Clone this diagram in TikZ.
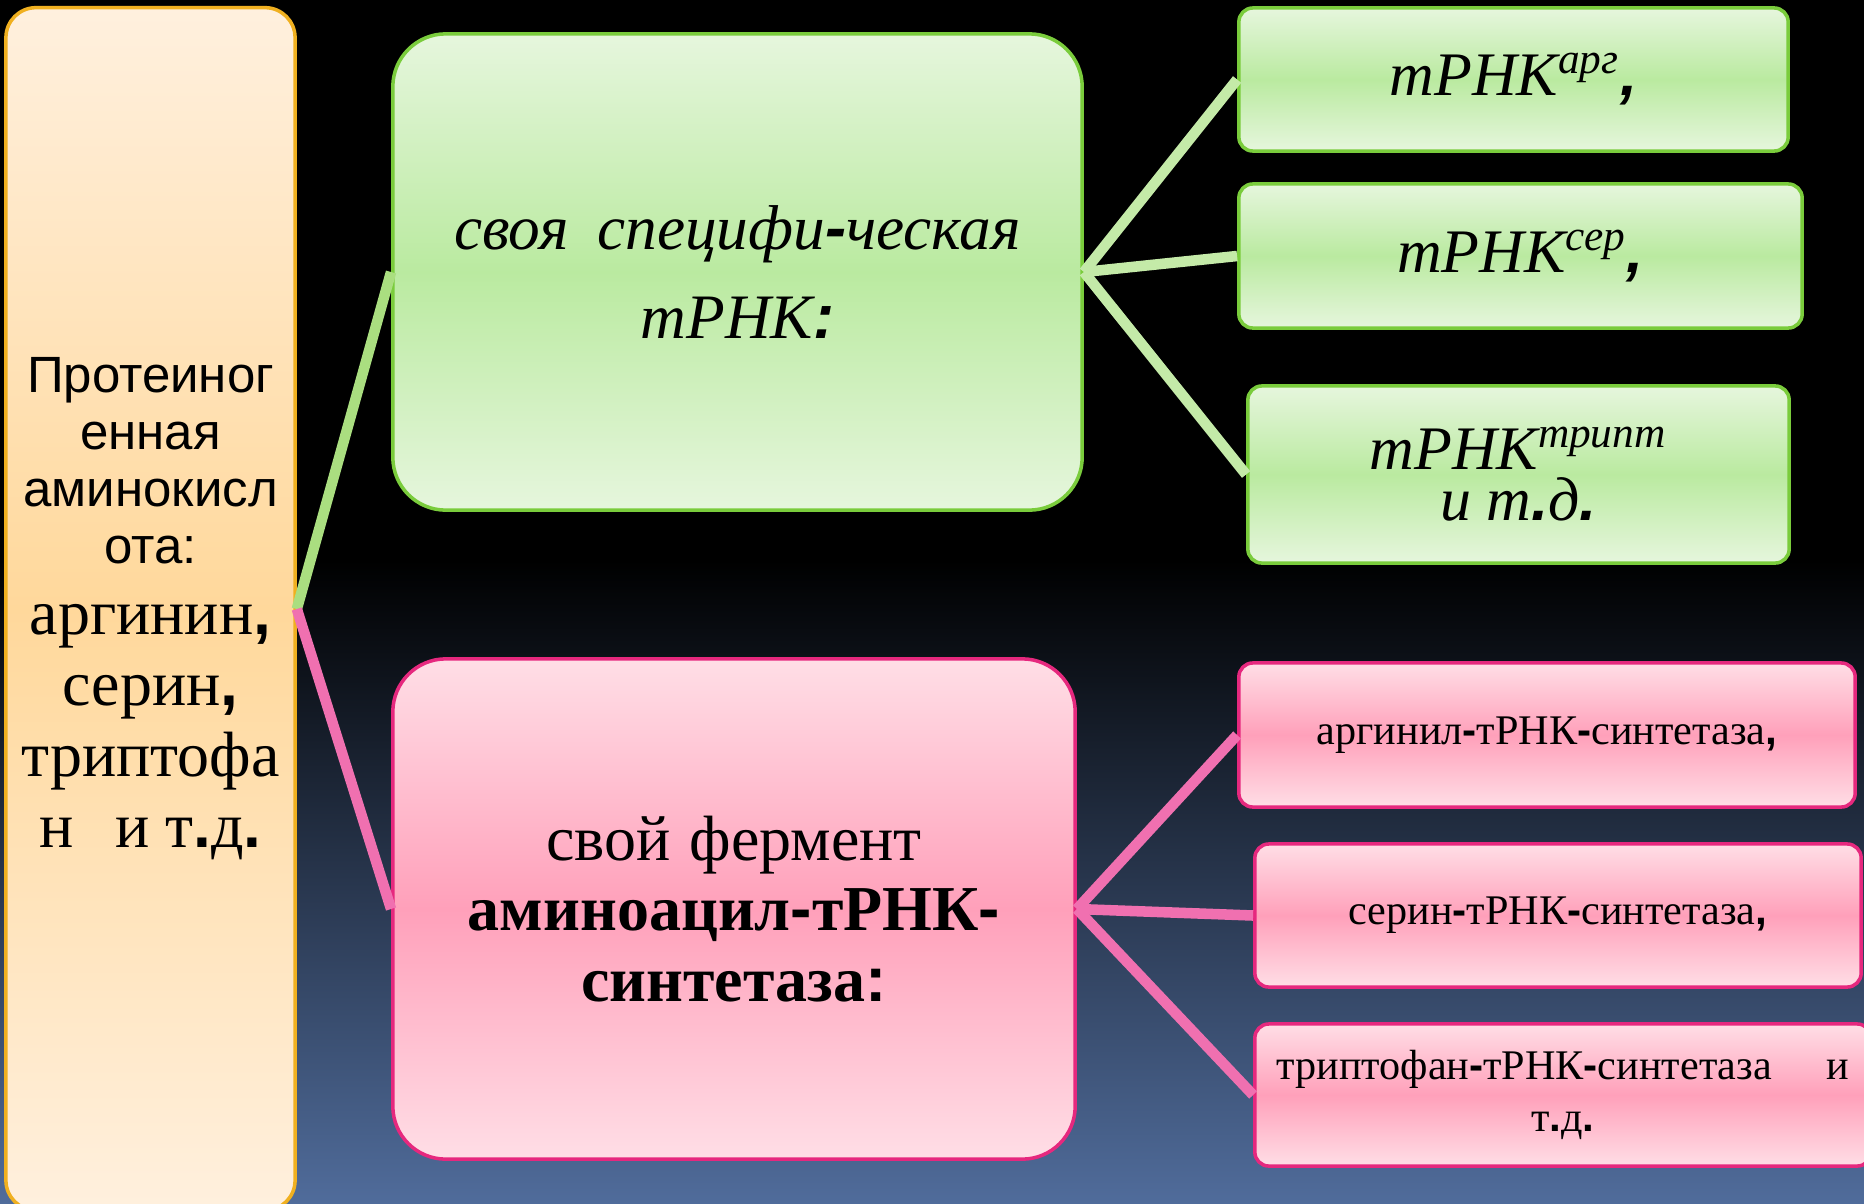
\documentclass[tikz,border=0pt]{standalone}
\usepackage{fontspec}
\setmainfont{Liberation Serif}
\setsansfont{Liberation Sans}
\newfontfamily\pnfont{Liberation Sans}
\usepackage{tikz}
\usetikzlibrary{positioning}
\setlength{\parindent}{0pt}
\definecolor{bgblue}{RGB}{80,108,155}
\definecolor{amtop}{RGB}{255,240,222}
\definecolor{ammid}{RGB}{255,216,155}
\definecolor{amline}{RGB}{240,176,32}
\definecolor{grtop}{RGB}{230,246,221}
\definecolor{grmid}{RGB}{186,234,160}
\definecolor{grline}{RGB}{122,204,60}
\definecolor{grlink}{RGB}{170,222,128}
\definecolor{grlinklt}{RGB}{196,234,168}
\definecolor{pktop}{RGB}{255,222,230}
\definecolor{pkmid}{RGB}{255,160,186}
\definecolor{pkline}{RGB}{230,40,126}
\definecolor{pklink}{RGB}{240,112,176}
\newcommand{\pn}[1]{{\pnfont\bfseries #1}}
\newcommand{\fsz}[2]{\fontsize{#1}{#2}\selectfont}

\begin{document}
\begin{tikzpicture}[x=0.01cm,y=-0.01cm,
  box/.style={rounded corners=#1,line width=1pt,align=flush center,inner sep=0pt},
  amibox/.style={box=0.3cm,draw=amline,top color=amtop,bottom color=amtop,middle color=ammid},
  grbox/.style={box=#1,draw=grline,top color=grtop,bottom color=grtop,middle color=grmid},
  pkbox/.style={box=#1,draw=pkline,top color=pktop,bottom color=pktop,middle color=pkmid},
  grconn/.style={draw=grlink,line width=3pt},
  grconnlt/.style={draw=grlinklt,line width=3pt},
  pkconn/.style={draw=pklink,line width=3pt}]
\useasboundingbox (0,0) rectangle (1864,1203);
\fill[black] (0,0) rectangle (1864,1203);
\shade[top color=black,bottom color=bgblue] (0,560) rectangle (1864,1203);

\node[amibox,minimum width=2.89cm,minimum height=12.02cm,text width=2.8cm] (amino) at (150.5,609)
  {{\sffamily\fsz{14.5}{16.2}Протеиног\\енная\\аминокисл\\ота:\par}
   {\fsz{18.2}{20.2}аргинин\pn{,}\\серин\pn{,}\\триптофа\\н\hspace{0.65em}и т\pn{.}д\pn{.}\par}};

\node[grbox=0.53cm,minimum width=6.89cm,minimum height=4.76cm,text width=6.6cm] (trna) at (737.5,272)
  {\itshape\fsz{18}{25.3}своя\hspace{0.45em}специфи\pn{-}ческая\\тРНК\pn{:}\par};
\node[grbox=0.14cm,minimum width=5.49cm,minimum height=1.43cm,text width=5.3cm] (trnaarg) at (1513.5,79.5)
  {\itshape\fsz{17.6}{20}\raisebox{-2pt}{тРНК\textsuperscript{арг}\pn{,}}\par};
\node[grbox=0.14cm,minimum width=5.63cm,minimum height=1.44cm,text width=5.4cm] (trnaser) at (1520.5,256)
  {\itshape\fsz{17.6}{20}\raisebox{-2pt}{тРНК\textsuperscript{сер}\pn{,}}\par};
\node[grbox=0.14cm,minimum width=5.41cm,minimum height=1.77cm,text width=5.2cm] (trnatrp) at (1518.5,474.5)
  {\itshape\fsz{17.6}{14.5}\lineskiplimit=-20pt тРНК\textsuperscript{трипт}\\и т\pn{.}д\pn{.}\par};

\node[pkbox=0.53cm,minimum width=6.82cm,minimum height=5cm,text width=6.6cm] (ferment) at (734,909)
  {\fsz{18.2}{20}свой\hspace{0.3em}фермент\\\textbf{аминоацил\pn{-}тРНК\pn{-}}\\\textbf{синтетаза\pn{:}}\par};
\node[pkbox=0.14cm,minimum width=6.16cm,minimum height=1.44cm,text width=6cm] (argsynt) at (1547,735)
  {\fsz{12}{14}\raisebox{-1.5pt}{аргинил\pn{-}тРНК\pn{-}синтетаза\pn{,}}\par};
\node[pkbox=0.14cm,minimum width=6.06cm,minimum height=1.43cm,text width=5.9cm] (sersynt) at (1558,915.5)
  {\fsz{12}{14}\raisebox{-1.5pt}{серин\pn{-}тРНК\pn{-}синтетаза\pn{,}}\par};
\node[pkbox=0.14cm,minimum width=6.16cm,minimum height=1.42cm,text width=6cm] (trpsynt) at (1563,1095)
  {\fsz{12}{15}триптофан\pn{-}тРНК\pn{-}синтетаза\hspace{1.3em}и\\т\pn{.}д\pn{.}\par};

\draw[grconn] (amino.east) -- (trna.west);
\draw[pkconn] (amino.east) -- (ferment.west);
\draw[grconnlt] (trna.east) -- (trnaarg.west);
\draw[grconnlt] (trna.east) -- (trnaser.west);
\draw[grconnlt] (trna.east) -- (trnatrp.west);
\draw[pkconn] (ferment.east) -- (argsynt.west);
\draw[pkconn] (ferment.east) -- (sersynt.west);
\draw[pkconn] (ferment.east) -- (trpsynt.west);
\end{tikzpicture}
\end{document}
